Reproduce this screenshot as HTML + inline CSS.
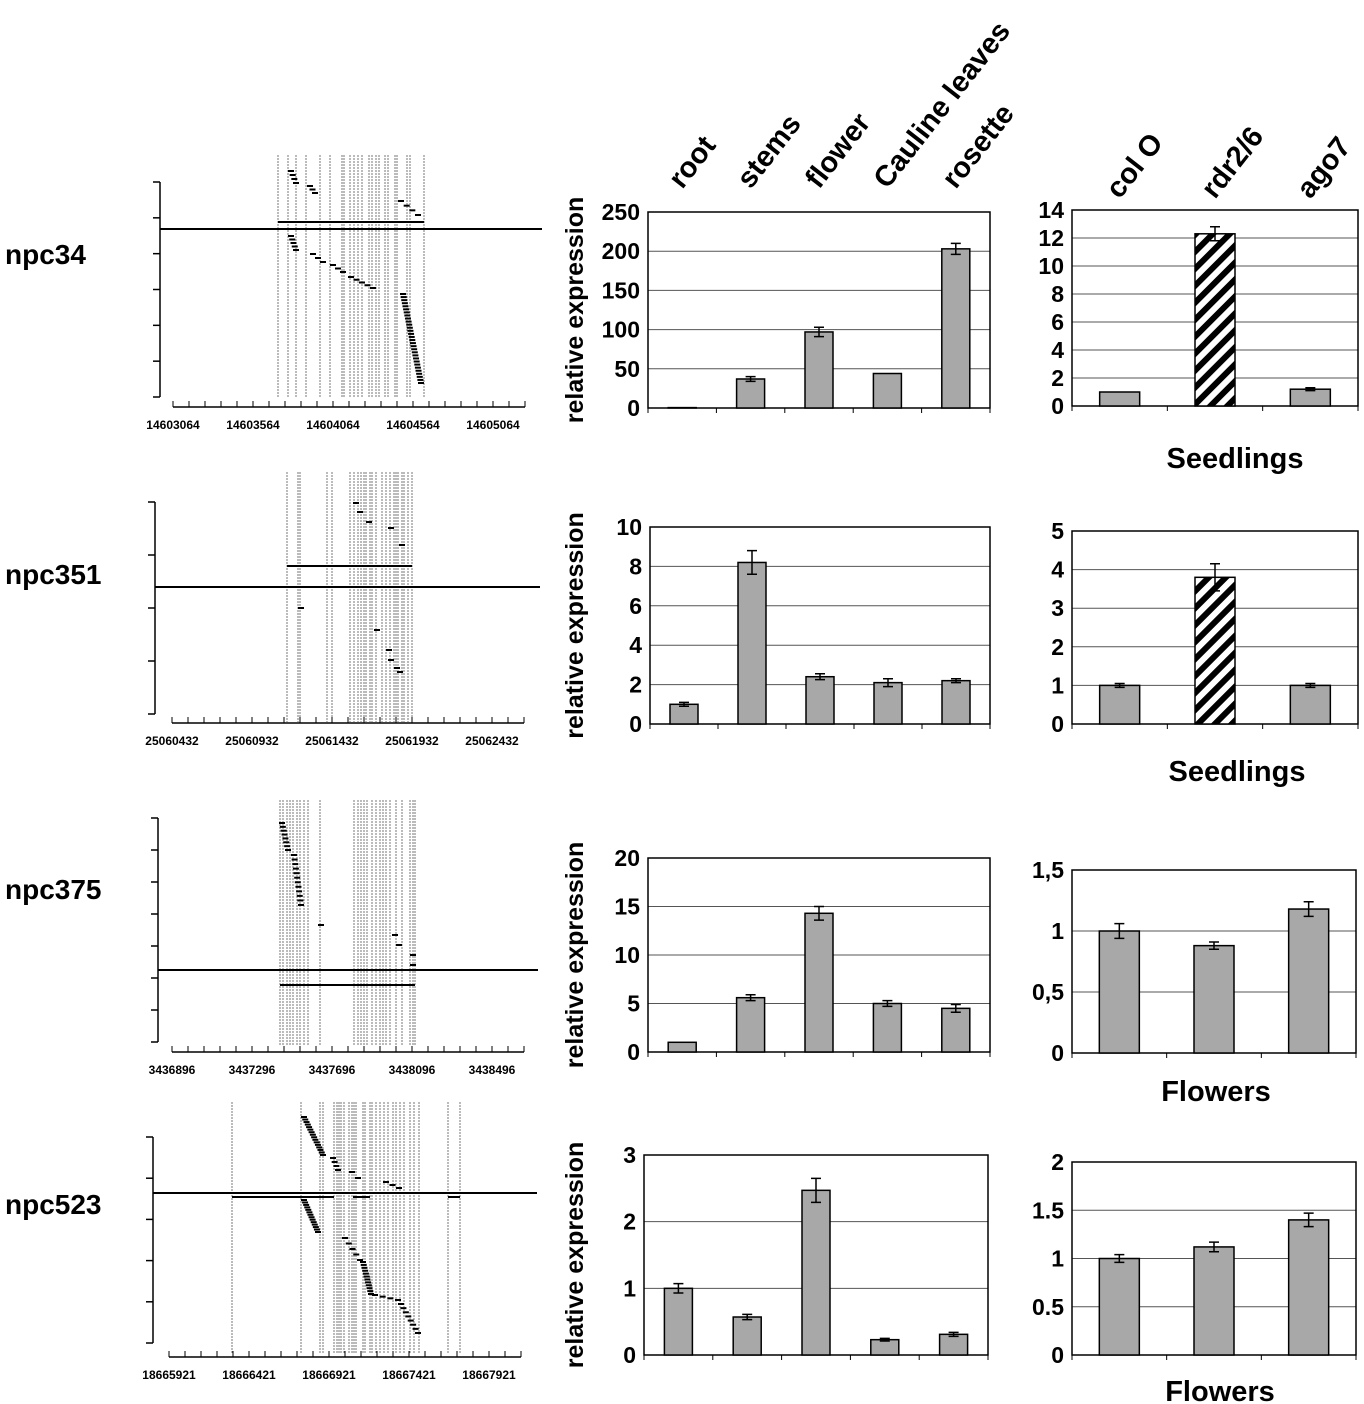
<!DOCTYPE html><html><head><meta charset="utf-8"><style>
body{margin:0;background:#fff;}
svg{display:block;font-family:"Liberation Sans",Arial,sans-serif;}
</style></head><body>
<svg id="fig" width="1364" height="1404" viewBox="0 0 1364 1404">
<defs><pattern id="hatch" patternUnits="userSpaceOnUse" width="12" height="12" patternTransform="rotate(45)"><rect width="12" height="12" fill="#fff"/><rect width="6" height="12" fill="#000"/></pattern></defs>
<g font-weight="bold" font-size="28" fill="#000">
<text x="5" y="264">npc34</text>
<text x="5" y="584">npc351</text>
<text x="5" y="899">npc375</text>
<text x="5" y="1214">npc523</text>
</g>
<g font-weight="bold" font-size="29" text-anchor="middle">
<text x="1235" y="468">Seedlings</text>
<text x="1237" y="781">Seedlings</text>
<text x="1216" y="1101">Flowers</text>
<text x="1220" y="1401">Flowers</text>
</g>
</svg>
<script>
const tissueCats=["root","stems","flower","Cauline leaves","rosette"];
const mutantCats=["col O","rdr2/6","ago7"];
const c1Vals=[0.5,37,97,44,203];const c1Err=[0,3,6,0,7];
const r1Vals=[1,12.3,1.2];const r1Err=[0,0.5,0.1];
const c2Vals=[1,8.2,2.4,2.1,2.2];const c2Err=[0.1,0.6,0.15,0.2,0.1];
const r2Vals=[1,3.8,1];const r2Err=[0.05,0.35,0.05];
const c3Vals=[1,5.6,14.3,5,4.5];const c3Err=[0,0.3,0.7,0.3,0.4];
const r3Vals=[1,0.88,1.18];const r3Err=[0.06,0.03,0.06];
const c4Vals=[1,0.57,2.47,0.23,0.31];const c4Err=[0.07,0.04,0.18,0.02,0.03];
const r4Vals=[1,1.12,1.4];const r4Err=[0.04,0.05,0.07];
const c1Ticks=["0","50","100","150","200","250"];
const r1Ticks=["0","2","4","6","8","10","12","14"];
const c2Ticks=["0","2","4","6","8","10"];
const r2Ticks=["0","1","2","3","4","5"];
const c3Ticks=["0","5","10","15","20"];
const r3Ticks=["0","0,5","1","1,5"];
const c4Ticks=["0","1","2","3"];
const r4Ticks=["0","0.5","1","1.5","2"];
const NS="http://www.w3.org/2000/svg";const svg=document.getElementById('fig');
function mk(t,a,p){const e=document.createElementNS(NS,t);for(const k in a)e.setAttribute(k,a[k]);(p||svg).appendChild(e);return e;}
function chart(o){
 const g=mk('g',{});
 
 
 const n=o.vals.length,max=o.max,cw=(o.x1-o.x0)/n;
 const Y=v=>o.y1-(v/max)*(o.y1-o.y0);
 o.ticks.forEach((t,i)=>{const v=max*i/(o.ticks.length-1);const y=Y(v);
  if(i>0){const l=mk('line',{x1:o.x0,x2:o.x1,y1:y,y2:y,stroke:'#555','stroke-width':1},g);
  
  }
  const tx=mk('text',{x:o.x0-8,y:y+8,'text-anchor':'end','font-size':23,'font-weight':'bold'},g);tx.textContent=t;
  
  
 });
 mk('rect',{x:o.x0,y:o.y0,width:o.x1-o.x0,height:o.y1-o.y0,fill:'none',stroke:'#000','stroke-width':1.5},g);
 for(let i=0;i<=n;i++){mk('line',{x1:o.x0+i*cw,x2:o.x0+i*cw,y1:o.y1,y2:o.y1+5,stroke:'#000'},g);}
 o.vals.forEach((v,i)=>{const cx=o.x0+cw*(i+0.5),y=Y(v);
  const b=mk('rect',{x:cx-o.bw/2,y:y,width:o.bw,height:o.y1-y,fill:(o.hatch===i?'url(#hatch)':'#a8a8a8'),stroke:'#000','stroke-width':1.5},g);
  
  
  const e=o.errs[i];if(e>0){const ya=Y(v+e),yb=Y(v-e);
   mk('path',{d:`M${cx},${ya}V${yb}M${cx-5},${ya}H${cx+5}M${cx-5},${yb}H${cx+5}`,stroke:'#000','stroke-width':1.5,fill:'none'},g);}
 });
 if(o.ylab){const t=mk('text',{x:0,y:0,transform:`translate(${o.ylabX},${(o.y0+o.y1)/2}) rotate(-90)`,'text-anchor':'middle','font-size':25,'font-weight':'bold'},g);t.textContent='relative expression';
  
  }
 if(o.catLab){o.cats.forEach((c,i)=>{const cx=o.x0+cw*(i+0.5);
  const t=mk('text',{transform:`translate(${cx},${o.catY}) rotate(-52)`,'font-size':29,'font-weight':'bold'},g);t.textContent=c;
  
  });}
}
chart({name:'tissue-chart-npc34',x0:648,x1:990,y0:212,y1:408,max:250,ticks:c1Ticks,vals:c1Vals,errs:c1Err,cats:tissueCats,bw:28,ylab:1,ylabX:583,catLab:1,catY:190});
chart({name:'mutant-chart-npc34',x0:1072,x1:1358,y0:210,y1:406,max:14,ticks:r1Ticks,vals:r1Vals,errs:r1Err,cats:mutantCats,bw:40,hatch:1,catLab:1,catY:200});
chart({name:'tissue-chart-npc351',x0:650,x1:990,y0:527,y1:724,max:10,ticks:c2Ticks,vals:c2Vals,errs:c2Err,cats:tissueCats,bw:28,ylab:1,ylabX:583});
chart({name:'mutant-chart-npc351',x0:1072,x1:1358,y0:531,y1:724,max:5,ticks:r2Ticks,vals:r2Vals,errs:r2Err,cats:mutantCats,bw:40,hatch:1});
chart({name:'tissue-chart-npc375',x0:648,x1:990,y0:858,y1:1052,max:20,ticks:c3Ticks,vals:c3Vals,errs:c3Err,cats:tissueCats,bw:28,ylab:1,ylabX:583});
chart({name:'mutant-chart-npc375',x0:1072,x1:1356,y0:870,y1:1053,max:1.5,ticks:r3Ticks,vals:r3Vals,errs:r3Err,cats:mutantCats,bw:40});
chart({name:'tissue-chart-npc523',x0:644,x1:988,y0:1155,y1:1355,max:3,ticks:c4Ticks,vals:c4Vals,errs:c4Err,cats:tissueCats,bw:28,ylab:1,ylabX:583});
chart({name:'mutant-chart-npc523',x0:1072,x1:1356,y0:1162,y1:1355,max:2,ticks:r4Ticks,vals:r4Vals,errs:r4Err,cats:mutantCats,bw:40});
function panel(p){
 const g=mk('g',{});
 
 
 mk('line',{x1:p.ax,x2:p.ax,y1:p.ay0,y2:p.ay1,stroke:'#000','stroke-width':1.5},g);
 for(let i=0;i<p.nt;i++){const y=p.ay0+i*(p.ay1-p.ay0)/(p.nt-1);mk('line',{x1:p.ax-7,x2:p.ax,y1:y,y2:y,stroke:'#000','stroke-width':1.5},g);}
 p.vx.forEach(x=>mk('line',{x1:x,x2:x,y1:p.vy0,y2:p.vy1,stroke:'#777','stroke-width':1,'stroke-dasharray':'2,1'},g));
 mk('line',{x1:p.ax,x2:p.mx1,y1:p.my,y2:p.my,stroke:'#000','stroke-width':2},g);
 p.seg.forEach(s=>mk('line',{x1:s[0],x2:s[1],y1:p.sy,y2:p.sy,stroke:'#000','stroke-width':2},g));
 p.dash.forEach(d=>mk('line',{x1:d[0],x2:d[0]+6,y1:d[1],y2:d[1],stroke:'#000','stroke-width':2},g));
 mk('line',{x1:p.xa0,x2:p.xa0+352,y1:p.xy,y2:p.xy,stroke:'#000','stroke-width':1.5},g);
 for(let i=0;i<=22;i++){const x=p.xa0+i*16;mk('line',{x1:x,x2:x,y1:p.xy,y2:p.xy-6,stroke:'#000'},g);}
 p.labs.forEach((l,i)=>{const t=mk('text',{x:p.xa0+i*80,y:p.xy+22,'text-anchor':'middle','font-size':12,'font-weight':'bold'},g);t.textContent=l;
  
  });
}
function ramp(x0,y0,x1,y1,n){const r=[];for(let i=0;i<n;i++)r.push([x0+(x1-x0)*i/(n-1),y0+(y1-y0)*i/(n-1)]);return r;}
panel({name:'genome-panel-npc34',ax:160,ay0:182,ay1:397,nt:7,vx:[278,288,296,306,320,330,342,344,350,354,358,362,369,372,376,379,385,388,395,397,407,410,424],vy0:155,vy1:397,mx1:542,my:229,seg:[[278,424]],sy:222,
 dash:[].concat(ramp(288,171,293,183,4),ramp(307,186,312,193,3),ramp(348,197,348,197,1),ramp(398,201,415,215,4),ramp(288,236,293,250,5),ramp(310,254,320,262,3),ramp(330,265,340,272,3),ramp(348,277,370,288,5),ramp(400,294,418,383,30)),
 xa0:173,xy:407,labs:["14603064","14603564","14604064","14604564","14605064"]});
panel({name:'genome-panel-npc351',ax:155,ay0:502,ay1:714,nt:5,vx:[287,298,300,327,332,350,354,358,361,364,366,370,372,376,382,386,390,394,396,398,402,404,408,412],vy0:472,vy1:722,mx1:540,my:587,seg:[[287,412]],sy:566,
 dash:[[353,503],[357,512],[366,522],[388,528],[399,545],[298,608],[374,630],[386,650],[388,660],[394,668],[397,672]],
 xa0:172,xy:723,labs:["25060432","25060932","25061432","25061932","25062432"]});
panel({name:'genome-panel-npc375',ax:158,ay0:818,ay1:1042,nt:8,vx:[280,283,287,290,293,297,300,304,308,320,354,358,361,364,367,372,376,380,383,386,390,396,402,410,413,415],vy0:800,vy1:1045,mx1:538,my:970,seg:[[280,415]],sy:985,
 dash:[].concat(ramp(279,823,285,850,8),ramp(291,855,298,905,12),ramp(303,915,305,918,1),[[318,925],[392,935],[396,945],[410,955],[410,965]]),
 xa0:172,xy:1052,labs:["3436896","3437296","3437696","3438096","3438496"]});
panel({name:'genome-panel-npc523',ax:153,ay0:1137,ay1:1343,nt:6,vx:[232,301,320,323,334,337,339,341,344,349,352,354,356,363,365,370,372,376,380,384,388,393,396,400,404,410,414,419,448,460],vy0:1102,vy1:1353,mx1:537,my:1193,seg:[[232,334],[353,370],[448,460]],sy:1197,
 dash:[].concat(ramp(301,1117,320,1155,16),ramp(330,1158,335,1170,4),ramp(349,1172,355,1178,2),ramp(383,1182,396,1188,3),ramp(301,1200,315,1232,14),ramp(325,1237,330,1237,1),ramp(342,1238,357,1260,5),ramp(360,1262,368,1294,12),ramp(372,1295,395,1300,4),ramp(398,1304,415,1333,8)),
 xa0:169,xy:1357,labs:["18665921","18666421","18666921","18667421","18667921"]});
</script>
</body></html>
